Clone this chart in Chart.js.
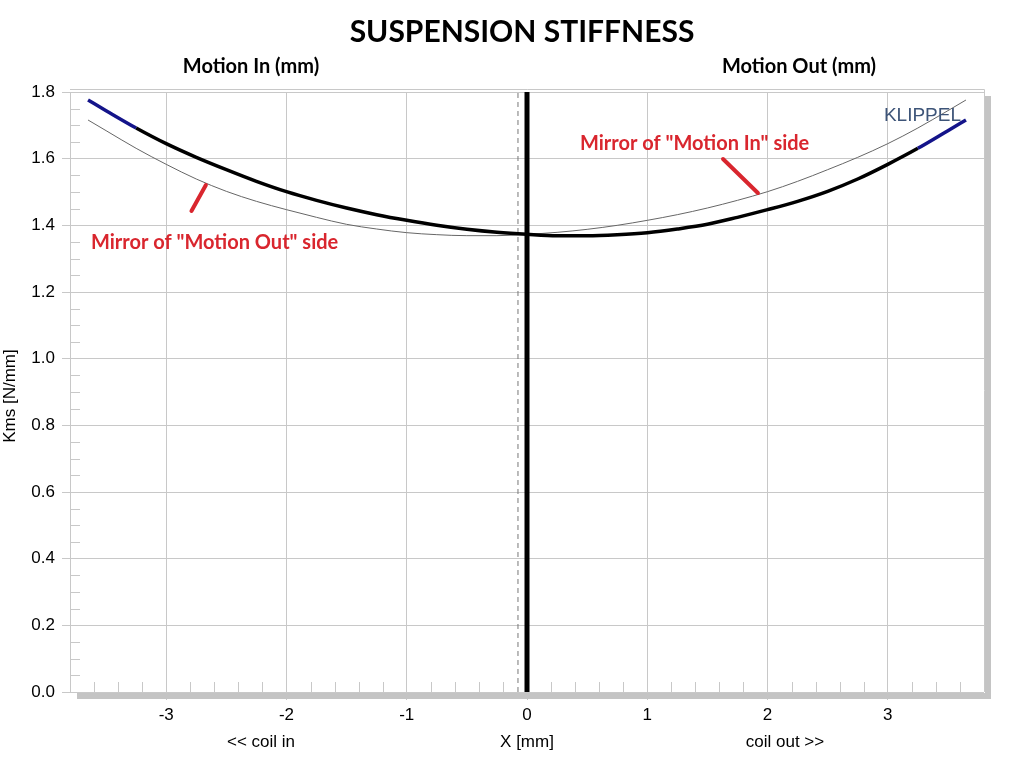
<!DOCTYPE html>
<html>
<head>
<meta charset="utf-8">
<script src="https://cdn.jsdelivr.net/npm/chart.js@4.4.1/dist/chart.umd.min.js"></script>
<style>
  html, body { margin: 0; padding: 0; background: #fff; }
  #wrap { width: 1024px; height: 760px; }
</style>
</head>
<body>
<div id="wrap"><canvas id="myChart" width="1024" height="760"></canvas></div>
<script>
// Displacement X [mm] and measured stiffness Kms [N/mm]
const motionX = [-3.65, -3.5, -3.25, -3, -2.75, -2.5, -2.25, -2, -1.75, -1.5, -1.25, -1, -0.75, -0.5, -0.25,
  0, 0.25, 0.5, 0.75, 1, 1.25, 1.5, 1.75, 2, 2.25, 2.5, 2.75, 3, 3.25, 3.5, 3.65];
const kmsValues = [1.776, 1.744, 1.692, 1.645, 1.604, 1.567, 1.532, 1.501, 1.475, 1.452, 1.432, 1.415, 1.400, 1.388, 1.379,
  1.373, 1.369, 1.369, 1.372, 1.378, 1.389, 1.403, 1.424, 1.447, 1.472, 1.502, 1.539, 1.583, 1.631, 1.684, 1.716];

// Cursor lines
const cursorX = 0;
const restX = -0.075;

// Red annotation strokes [x0, y0, x1, y1]
const arrowOut = [-2.79, 1.443, -2.67, 1.521];
const arrowIn = [1.63, 1.599, 1.92, 1.497];

const xTicks = [-3, -2, -1, 0, 1, 2, 3];
const yTicks = [0, 0.2, 0.4, 0.6, 0.8, 1.0, 1.2, 1.4, 1.6, 1.8];

// Build point lists
const mainCurve = motionX.map((x, i) => ({ x: x, y: kmsValues[i] }));
// mirror: the same measurement reflected about X = 0
const mirrorCurve = motionX.map((x, i) => ({ x: -x, y: kmsValues[i] })).reverse();

const RED = '#d9262e';
const NAVY = '#14148a';

// Minor ticks, frame, shadow and the free texts
const decorPlugin = {
  id: 'decor',
  beforeDatasetsDraw(chart) {
    const { ctx, chartArea: a, scales: { x, y } } = chart;
    ctx.save();
    // shadow
    ctx.fillStyle = '#c4c4c4';
    ctx.fillRect(a.left + 7, a.bottom + 1, a.right - a.left, 6);
    ctx.fillRect(a.right + 1, a.top + 4, 6, a.bottom - a.top + 3);
    // frame
    ctx.strokeStyle = '#c8c8c8';
    ctx.lineWidth = 1;
    ctx.beginPath();
    ctx.moveTo(a.left, a.top - 2.5);
    ctx.lineTo(a.right + 0.5, a.top - 2.5);
    ctx.lineTo(a.right + 0.5, a.bottom);
    ctx.stroke();
    // minor ticks
    ctx.beginPath();
    for (let k = 1; k < 36; k++) {
      if (k % 4 === 0) continue;
      const py = Math.round(y.getPixelForValue(k * 0.05)) + 0.5;
      ctx.moveTo(a.left, py);
      ctx.lineTo(a.left + 10, py);
    }
    for (let k = -19; k <= 19; k++) {
      if (k % 5 === 0) continue;
      const px = Math.round(x.getPixelForValue(k * 0.2)) + 0.5;
      ctx.moveTo(px, a.bottom - 10);
      ctx.lineTo(px, a.bottom);
    }
    ctx.stroke();
    ctx.restore();
  },
  afterDraw(chart) {
    const { ctx, scales: { x } } = chart;
    ctx.save();
    ctx.textAlign = 'center';
    ctx.textBaseline = 'middle';

    ctx.fillStyle = '#000';
    ctx.font = 'bold 30px Lato';
    ctx.fillText('SUSPENSION STIFFNESS', 522, 32);

    ctx.font = 'bold 20px Lato';
    ctx.fillText('Motion In (mm)', 251, 67);
    ctx.fillText('Motion Out (mm)', 799, 67);

    ctx.font = '17px "Liberation Sans"';
    ctx.fillText('<< coil in', 261, 742);
    ctx.fillText('X [mm]', x.getPixelForValue(0), 742);
    ctx.fillText('coil out >>', 785, 742);

    ctx.save();
    ctx.translate(10, 396);
    ctx.rotate(-Math.PI / 2);
    ctx.fillText('Kms [N/mm]', 0, 0);
    ctx.restore();

    ctx.fillStyle = '#3d5478';
    ctx.font = '19px "Liberation Sans"';
    ctx.textAlign = 'right';
    ctx.fillText('KLIPPEL', 961, 116);

    ctx.fillStyle = RED;
    ctx.font = 'bold 20px Lato';
    ctx.textAlign = 'left';
    ctx.fillText('Mirror of "Motion In" side', 580, 144);
    ctx.fillText('Mirror of "Motion Out" side', 91, 243);
    ctx.restore();
  }
};

const ctx = document.getElementById('myChart').getContext('2d');

new Chart(ctx, {
  type: 'line',
  data: {
    datasets: [
      {
        data: [{ x: cursorX, y: 0 }, { x: cursorX, y: 1.8 }],
        borderColor: '#000',
        borderWidth: 5,
        pointRadius: 0
      },
      {
        data: [{ x: arrowOut[0], y: arrowOut[1] }, { x: arrowOut[2], y: arrowOut[3] }],
        borderColor: RED,
        borderWidth: 4,
        borderCapStyle: 'round',
        pointRadius: 0
      },
      {
        data: [{ x: arrowIn[0], y: arrowIn[1] }, { x: arrowIn[2], y: arrowIn[3] }],
        borderColor: RED,
        borderWidth: 4,
        borderCapStyle: 'round',
        pointRadius: 0
      },
      {
        data: mainCurve,
        borderColor: '#000',
        borderWidth: 3.5,
        pointRadius: 0,
        cubicInterpolationMode: 'monotone',
        segment: {
          borderColor: c => (c.p0.parsed.x < -3.3 || c.p0.parsed.x >= 3.25) ? NAVY : '#000'
        }
      },
      {
        data: mirrorCurve,
        borderColor: '#666',
        borderWidth: 1,
        pointRadius: 0,
        cubicInterpolationMode: 'monotone'
      },
      {
        data: [{ x: restX, y: 0 }, { x: restX, y: 1.8 }],
        borderColor: '#777',
        borderWidth: 1,
        borderDash: [5, 4],
        pointRadius: 0
      }
    ]
  },
  options: {
    responsive: false,
    animation: false,
    devicePixelRatio: 1,
    layout: { padding: { top: 92, right: 40, left: 0, bottom: 0 } },
    plugins: {
      legend: { display: false },
      tooltip: { enabled: false },
      title: { display: false }
    },
    scales: {
      x: {
        type: 'linear',
        min: -3.8,
        max: 3.8,
        afterFit: s => { s.height = 68; },
        afterBuildTicks: s => { s.ticks = xTicks.map(v => ({ value: v })); },
        ticks: {
          color: '#000',
          font: { family: 'Liberation Sans', size: 17 },
          padding: 5,
          callback: v => String(v)
        },
        grid: { color: '#c8c8c8', tickLength: 8 },
        border: { display: false }
      },
      y: {
        min: 0,
        max: 1.8,
        afterFit: s => { s.width = 70; },
        afterBuildTicks: s => { s.ticks = yTicks.map(v => ({ value: v })); },
        ticks: {
          color: '#000',
          font: { family: 'Liberation Sans', size: 17 },
          padding: 7,
          callback: v => Number(v).toFixed(1)
        },
        grid: { color: '#c8c8c8', tickLength: 8 },
        border: { color: '#c8c8c8' }
      }
    }
  },
  plugins: [decorPlugin]
});
</script>
</body>
</html>
